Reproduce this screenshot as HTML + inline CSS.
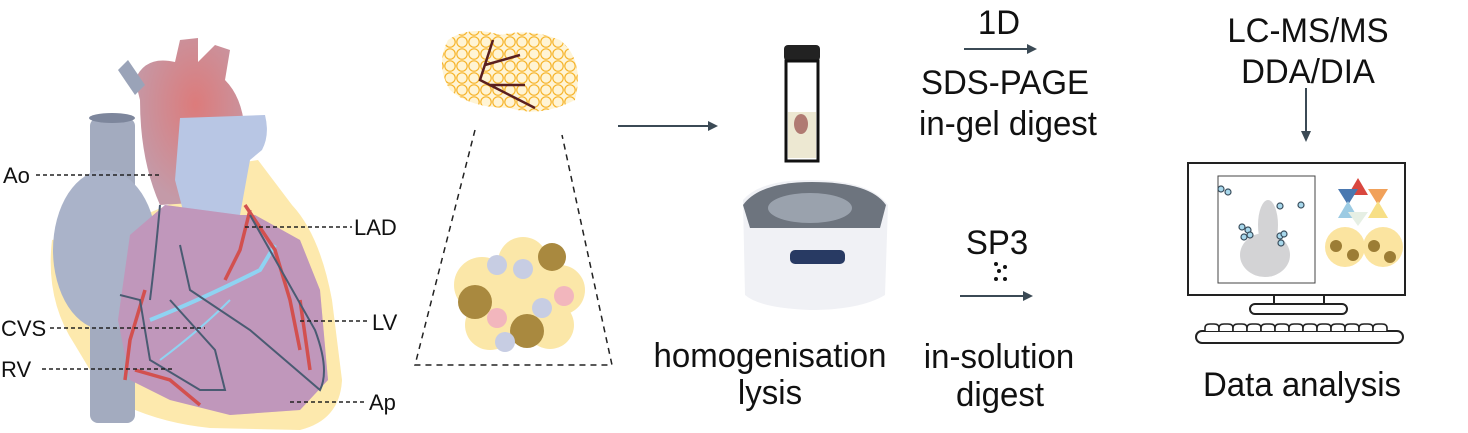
<!DOCTYPE html>
<html><head><meta charset="utf-8"><style>
html,body{margin:0;padding:0;background:#fff;width:1468px;height:433px;overflow:hidden}
svg text{font-family:"Liberation Sans",sans-serif;fill:#111}
</style></head><body>
<svg width="1468" height="433" viewBox="0 0 1468 433" xmlns="http://www.w3.org/2000/svg">
<defs>
<radialGradient id="ao" cx="0.55" cy="0.4" r="0.6"><stop offset="0" stop-color="#dc7b7b"/><stop offset="1" stop-color="#c49aa8"/></radialGradient>
<pattern id="fatp" width="12" height="12" patternUnits="userSpaceOnUse"><circle cx="6" cy="6" r="5.2" fill="none" stroke="#f6b42b" stroke-width="1.2"/></pattern>
</defs>
<!-- HEART -->
<g>
<path d="M52,240 Q45,300 75,345 L105,395 Q150,422 210,428 L300,430 Q340,420 342,380 L332,300 Q320,235 292,205 L258,160 L225,165 L180,200 L120,225 Z" fill="#fde9ad"/>
<rect x="90" y="118" width="45" height="305" rx="8" fill="#a3abbf"/>
<ellipse cx="112" cy="118" rx="23" ry="5" fill="#7d869c"/>
<ellipse cx="105" cy="250" rx="52" ry="80" fill="#aab3c9"/>
<path d="M135,80 Q145,55 175,62 L180,40 L198,38 L198,62 L215,45 L230,50 L225,80 Q245,100 245,140 L240,200 L160,205 Q140,160 140,100 Z" fill="url(#ao)"/>
<path d="M118,70 L128,60 L145,85 L135,95 Z" fill="#9aa3b8"/>
<path d="M180,118 L265,115 Q270,135 262,150 L250,160 L240,215 L185,218 L175,180 Z" fill="#b8c6e4"/>
<path d="M130,235 L165,205 L240,215 L255,215 L300,240 L320,290 L328,380 L300,410 L230,415 L170,400 L130,380 L118,320 Z" fill="#c79bbd"/>
<path d="M130,235 L165,205 L240,215 L255,215 L300,240 L320,290 L328,380 L300,410 L230,415 L170,400 L130,380 L118,320 Z" fill="#b48fb8" opacity="0.35"/>
<path d="M150,320 Q200,300 260,270 L275,245" stroke="#8fd3f2" stroke-width="4" fill="none"/>
<path d="M160,360 Q200,330 230,300" stroke="#8fd3f2" stroke-width="2" fill="none"/>
<path d="M245,205 L275,250 L290,300 L300,350 M250,210 L240,250 L225,280 M300,300 L310,370 M145,290 L130,340 L125,380 M135,370 L170,380 L200,405" stroke="#d2504f" stroke-width="3.5" fill="none"/>
<path d="M160,205 Q155,260 150,300 M180,245 L190,290 L250,330 L320,390 Q330,370 315,330 L250,215 M120,295 L140,300 L150,360 L200,390 L225,390 L215,350 L170,300" stroke="#4a5b72" stroke-width="2" fill="none"/>
</g>
<g stroke="#222" stroke-width="1.6" stroke-dasharray="4,3">
<line x1="36" y1="175" x2="162" y2="175"/>
<line x1="245" y1="227" x2="352" y2="227"/>
<line x1="50" y1="328" x2="205" y2="328"/>
<line x1="42" y1="369" x2="172" y2="369"/>
<line x1="300" y1="321" x2="368" y2="321"/>
<line x1="290" y1="402" x2="367" y2="402"/>
</g>
<g font-size="22">
<text x="3" y="183">Ao</text>
<text x="354" y="235">LAD</text>
<text x="1" y="336">CVS</text>
<text x="1" y="377">RV</text>
<text x="372" y="330">LV</text>
<text x="369" y="410">Ap</text>
</g>
<!-- tissue -->
<path d="M448,40 Q470,25 500,35 Q530,28 560,40 Q585,60 575,100 Q540,118 510,108 Q470,108 450,90 Q435,65 448,40 Z" fill="#fff4d5"/>
<path d="M448,40 Q470,25 500,35 Q530,28 560,40 Q585,60 575,100 Q540,118 510,108 Q470,108 450,90 Q435,65 448,40 Z" fill="url(#fatp)"/>
<path d="M493,40 L480,80 L535,108 M485,65 L520,55 M490,85 L525,85" stroke="#5a1f1f" stroke-width="2.5" fill="none"/>
<path d="M475,130 L415,365 L612,365 L562,135" stroke="#222" stroke-width="1.5" stroke-dasharray="6,5" fill="none"/>
<!-- cells -->
<g>
<circle cx="482" cy="285" r="28" fill="#fbe7a8"/>
<circle cx="523" cy="262" r="25" fill="#fbe7a8"/>
<circle cx="560" cy="290" r="25" fill="#fbe7a8"/>
<circle cx="520" cy="305" r="27" fill="#fbe7a8"/>
<circle cx="490" cy="325" r="25" fill="#fbe7a8"/>
<circle cx="550" cy="325" r="24" fill="#fbe7a8"/>
<circle cx="552" cy="257" r="14" fill="#a9893f"/>
<circle cx="475" cy="302" r="17" fill="#a9893f"/>
<circle cx="527" cy="331" r="17" fill="#a9893f"/>
<circle cx="497" cy="265" r="10" fill="#c7cde3"/>
<circle cx="523" cy="269" r="10" fill="#c7cde3"/>
<circle cx="542" cy="308" r="10" fill="#c7cde3"/>
<circle cx="505" cy="342" r="10" fill="#c7cde3"/>
<circle cx="564" cy="296" r="10" fill="#f2b6bd"/>
<circle cx="497" cy="318" r="10" fill="#f2b6bd"/>
</g>
<!-- arrow -->
<line x1="618" y1="126" x2="710" y2="126" stroke="#3b4a55" stroke-width="2"/>
<path d="M708,121 L718,126 L708,131 Z" fill="#3b4a55"/>
<!-- tube -->
<rect x="784" y="45" width="36" height="16" rx="4" fill="#222"/>
<rect x="786" y="61" width="32" height="100" fill="#fff" stroke="#111" stroke-width="3"/>
<rect x="788" y="112" width="28" height="46" fill="#ede8d2"/>
<ellipse cx="801" cy="124" rx="7" ry="10" fill="#b07a72"/>
<!-- centrifuge -->
<path d="M743,200 Q760,180 810,180 Q870,180 888,205 L885,295 Q860,310 810,310 Q760,308 745,295 Z" fill="#f0f1f5"/>
<path d="M743,205 Q760,182 812,182 Q870,182 886,205 L880,228 L750,228 Z" fill="#6d747e"/>
<ellipse cx="810" cy="208" rx="42" ry="15" fill="#9aa2ad"/>
<rect x="790" y="250" width="55" height="14" rx="5" fill="#283a63"/>
<g font-size="33" text-anchor="middle">
<text transform="translate(770,367) scale(1,1.05)">homogenisation</text>
<text transform="translate(770,404) scale(1,1.05)">lysis</text>
<text transform="translate(999,34) scale(1,1.05)">1D</text>
<text transform="translate(1005,94) scale(1,1.05)">SDS-PAGE</text>
<text transform="translate(1008,135) scale(1,1.05)">in-gel digest</text>
<text transform="translate(997,254) scale(1,1.05)">SP3</text>
<text transform="translate(999,368) scale(1,1.05)">in-solution</text>
<text transform="translate(1000,406) scale(1,1.05)">digest</text>
<text transform="translate(1308,42) scale(1,1.05)">LC-MS/MS</text>
<text transform="translate(1308,83) scale(1,1.05)">DDA/DIA</text>
<text transform="translate(1302,396) scale(1,1.05)">Data analysis</text>
</g>
<line x1="964" y1="49" x2="1028" y2="49" stroke="#3b4a55" stroke-width="2"/>
<path d="M1027,44 L1037,49 L1027,54 Z" fill="#3b4a55"/>
<line x1="960" y1="296" x2="1025" y2="296" stroke="#3b4a55" stroke-width="2"/>
<path d="M1023,291 L1033,296 L1023,301 Z" fill="#3b4a55"/>
<g fill="#111"><circle cx="996" cy="264" r="2"/><circle cx="1005" cy="267" r="2"/><circle cx="999" cy="271" r="2"/><circle cx="996" cy="279" r="2"/><circle cx="1005" cy="279" r="2"/></g>
<line x1="1306" y1="88" x2="1306" y2="132" stroke="#3b4a55" stroke-width="2"/>
<path d="M1301,131 L1306,142 L1311,131 Z" fill="#3b4a55"/>
<!-- monitor -->
<rect x="1188" y="163" width="217" height="132" fill="#fff" stroke="#222" stroke-width="2"/>
<rect x="1218" y="176" width="97" height="107" fill="#fff" stroke="#444" stroke-width="1"/>
<ellipse cx="1265" cy="255" rx="25" ry="22" fill="#d3d3d5"/>
<ellipse cx="1268" cy="225" rx="10" ry="25" fill="#d3d3d5"/>
<g fill="#a8d8ec" stroke="#3b4f5e" stroke-width="1.2">
<circle cx="1221" cy="189" r="3"/><circle cx="1228" cy="192" r="3"/><circle cx="1280" cy="206" r="3"/><circle cx="1301" cy="205" r="3"/>
<circle cx="1242" cy="227" r="3"/><circle cx="1248" cy="230" r="3"/><circle cx="1244" cy="237" r="3"/><circle cx="1250" cy="235" r="3"/><circle cx="1280" cy="236" r="3"/><circle cx="1284" cy="234" r="3"/><circle cx="1281" cy="243" r="3"/>
</g>
<path d="M1358,178 L1348,195 L1368,195 Z" fill="#d9473f"/>
<path d="M1338,189 L1358,189 L1348,205 Z" fill="#4a78b0"/>
<path d="M1368,189 L1388,189 L1378,205 Z" fill="#f1a15a"/>
<path d="M1338,218 L1348,201 L1358,218 Z" fill="#9ccbe3"/>
<path d="M1368,218 L1378,201 L1388,218 Z" fill="#f7df86"/>
<path d="M1348,212 L1368,212 L1358,226 Z" fill="#e6efe4"/>
<circle cx="1345" cy="247" r="20" fill="#fbe4a0"/>
<circle cx="1383" cy="247" r="20" fill="#fbe4a0"/>
<circle cx="1336" cy="246" r="6" fill="#9c7d35"/><circle cx="1353" cy="255" r="6" fill="#9c7d35"/>
<circle cx="1374" cy="246" r="6" fill="#9c7d35"/><circle cx="1390" cy="257" r="6" fill="#9c7d35"/>
<rect x="1274" y="295" width="50" height="10" fill="#fff" stroke="#222" stroke-width="2"/>
<rect x="1250" y="304" width="97" height="10" rx="5" fill="#fff" stroke="#222" stroke-width="2"/>
<rect x="1196" y="331" width="207" height="12" rx="6" fill="#fff" stroke="#222" stroke-width="2"/>
<g fill="#fff" stroke="#222" stroke-width="1.6">
<path d="M1205,331 v-3 q0,-4 5,-4 h4 q5,0 5,4 v3"/><path d="M1219,331 v-3 q0,-4 5,-4 h4 q5,0 5,4 v3"/><path d="M1233,331 v-3 q0,-4 5,-4 h4 q5,0 5,4 v3"/><path d="M1247,331 v-3 q0,-4 5,-4 h4 q5,0 5,4 v3"/><path d="M1261,331 v-3 q0,-4 5,-4 h4 q5,0 5,4 v3"/><path d="M1275,331 v-3 q0,-4 5,-4 h4 q5,0 5,4 v3"/><path d="M1289,331 v-3 q0,-4 5,-4 h4 q5,0 5,4 v3"/><path d="M1303,331 v-3 q0,-4 5,-4 h4 q5,0 5,4 v3"/><path d="M1317,331 v-3 q0,-4 5,-4 h4 q5,0 5,4 v3"/><path d="M1331,331 v-3 q0,-4 5,-4 h4 q5,0 5,4 v3"/><path d="M1345,331 v-3 q0,-4 5,-4 h4 q5,0 5,4 v3"/><path d="M1359,331 v-3 q0,-4 5,-4 h4 q5,0 5,4 v3"/><path d="M1373,331 v-3 q0,-4 5,-4 h4 q5,0 5,4 v3"/>
</g>
</svg>
</body></html>
